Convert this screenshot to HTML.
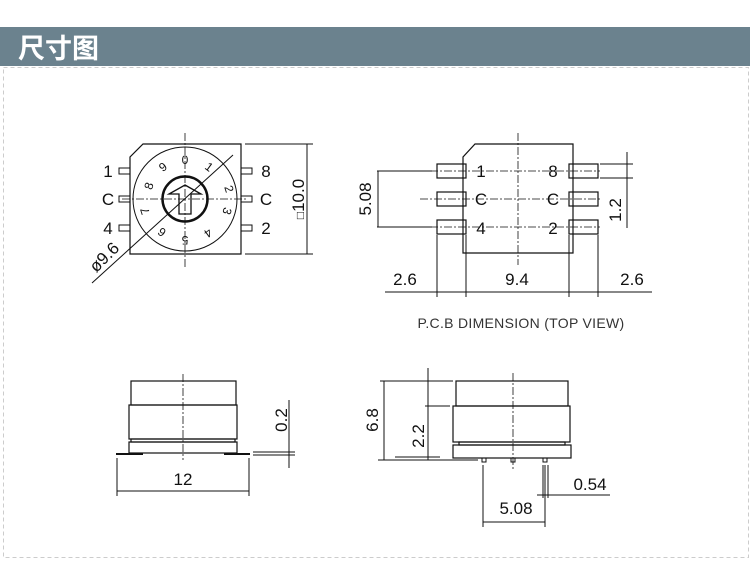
<!DOCTYPE html>
<html><head><meta charset="utf-8"><style>
html,body{margin:0;padding:0;background:#fff;width:750px;height:561px;overflow:hidden}
</style></head><body>
<svg width="750" height="561" viewBox="0 0 750 561" xmlns="http://www.w3.org/2000/svg" font-family="Liberation Sans, Arial, sans-serif">
<rect x="0" y="27" width="750" height="39" fill="#6b828e"/>
<text x="18" y="58" font-family="Liberation Sans, Noto Sans CJK SC, sans-serif" font-size="27" font-weight="bold" fill="#fff">尺寸图</text>
<rect x="3.5" y="67.5" width="745" height="490" fill="none" stroke="#ccc" stroke-dasharray="4,3"/>
<g stroke="#111" fill="none" stroke-width="1.2">
<path d="M143,144 L241,144 L241,254 L130,254 L130,157 Z"/>
<circle cx="185" cy="199" r="52" stroke-width="1"/>
<circle cx="185" cy="199" r="22.5" stroke-width="2.5"/>
<path d="M185,185 L201,194 L191,194 L191,214 L179,214 L179,194 L169,194 Z" stroke-width="1.3"/>
<g stroke-width="1"><rect x="119" y="168" width="11" height="6"/><rect x="119" y="196" width="11" height="6"/><rect x="119" y="225" width="11" height="6"/>
<rect x="241" y="168" width="11" height="6"/><rect x="241" y="196" width="11" height="6"/><rect x="241" y="225" width="11" height="6"/></g>
<g stroke-width="0.8" stroke-dasharray="8,2,2,2"><line x1="185" y1="133" x2="185" y2="268"/><line x1="122" y1="199" x2="248" y2="199"/></g>
<line x1="92" y1="283" x2="233" y2="155" stroke-width="1"/>
<g stroke-width="1"><line x1="245" y1="144" x2="313" y2="144"/><line x1="245" y1="254" x2="313" y2="254"/><line x1="307" y1="144" x2="307" y2="254"/></g>
<path d="M475,144 L573,144 L573,253 L463,253 L463,157 Z"/>
<g stroke-width="1.2"><rect x="437" y="164" width="29" height="14"/><rect x="437" y="192" width="29" height="14"/><rect x="437" y="220" width="29" height="14"/>
<rect x="569" y="164" width="29" height="14"/><rect x="569" y="192" width="29" height="14"/><rect x="569" y="220" width="29" height="14"/></g>
<g stroke-width="0.8" stroke-dasharray="8,2,2,2"><line x1="430" y1="171" x2="600" y2="171"/><line x1="420" y1="199" x2="600" y2="199"/><line x1="430" y1="227" x2="600" y2="227"/><line x1="518" y1="133" x2="518" y2="265"/></g>
<g stroke-width="1"><line x1="377" y1="171" x2="432" y2="171"/><line x1="377" y1="227" x2="432" y2="227"/><line x1="378" y1="171" x2="378" y2="227"/>
<line x1="600" y1="164" x2="633" y2="164"/><line x1="600" y1="178" x2="633" y2="178"/><line x1="627" y1="152" x2="627" y2="228"/>
<line x1="437" y1="235" x2="437" y2="297"/><line x1="466" y1="235" x2="466" y2="297"/><line x1="569" y1="235" x2="569" y2="297"/><line x1="598" y1="235" x2="598" y2="297"/>
<line x1="385" y1="292" x2="652" y2="292"/></g>
<rect x="131" y="381" width="105" height="24"/><rect x="129" y="405" width="108" height="34"/><rect x="131" y="439" width="104" height="3"/><rect x="129" y="442" width="108" height="11"/>
<g stroke-width="2"><line x1="116" y1="454" x2="143" y2="454"/><line x1="224" y1="454" x2="250" y2="454"/></g>
<line x1="183" y1="374" x2="183" y2="460" stroke-width="0.8" stroke-dasharray="8,2,2,2"/>
<g stroke-width="1"><line x1="117" y1="458" x2="117" y2="496"/><line x1="249" y1="458" x2="249" y2="496"/><line x1="117" y1="491" x2="249" y2="491"/>
<line x1="289" y1="400" x2="289" y2="468"/><line x1="253" y1="452" x2="295" y2="452"/><line x1="253" y1="455" x2="295" y2="455"/></g>
<rect x="456" y="381" width="112" height="25"/><rect x="453" y="406" width="117" height="36"/><rect x="459" y="442" width="106" height="3"/><rect x="453" y="445" width="118" height="13"/>
<g stroke-width="1"><rect x="482" y="458" width="4" height="4"/><rect x="511" y="458" width="4" height="4"/><rect x="543" y="458" width="4" height="4"/></g>
<line x1="513" y1="373" x2="513" y2="470" stroke-width="0.8" stroke-dasharray="8,2,2,2"/>
<g stroke-width="1"><line x1="380" y1="381" x2="453" y2="381"/><line x1="378" y1="460" x2="478" y2="460"/><line x1="384" y1="381" x2="384" y2="460"/>
<line x1="428" y1="368" x2="428" y2="460"/><line x1="425" y1="406" x2="450" y2="406"/><line x1="395" y1="457" x2="440" y2="457"/>
<line x1="483" y1="465" x2="483" y2="527"/><line x1="545" y1="465" x2="545" y2="527"/><line x1="483" y1="522" x2="545" y2="522"/>
<line x1="543" y1="465" x2="543" y2="498"/><line x1="548" y1="465" x2="548" y2="498"/><line x1="537" y1="495" x2="610" y2="495"/></g>
</g>
<g fill="#111" font-size="17" text-anchor="middle">
<text x="108" y="177">1</text><text x="108" y="205">C</text><text x="108" y="234">4</text>
<text x="266" y="177">8</text><text x="266" y="205">C</text><text x="266" y="234">2</text>
<text transform="translate(298,199) rotate(-90)" y="6"><tspan font-size="12">□</tspan>10.0</text>
<text transform="translate(104,257) rotate(-45)" y="6">ø9.6</text>
<text x="481" y="177">1</text><text x="481" y="205">C</text><text x="481" y="234">4</text>
<text x="553" y="177">8</text><text x="553" y="205">C</text><text x="553" y="234">2</text>
<text transform="translate(365,199) rotate(-90)" y="6">5.08</text>
<text transform="translate(615,210) rotate(-90)" y="6">1.2</text>
<text x="405" y="285">2.6</text><text x="517" y="285">9.4</text><text x="632" y="285">2.6</text>
<text x="183" y="485">12</text>
<text transform="translate(281,420) rotate(-90)" y="6">0.2</text>
<text transform="translate(372,420) rotate(-90)" y="6">6.8</text>
<text transform="translate(418,436) rotate(-90)" y="6">2.2</text>
<text x="516" y="514">5.08</text><text x="590" y="490">0.54</text>
</g>
<text x="521" y="328" font-size="14" fill="#333" text-anchor="middle" letter-spacing="0.3">P.C.B DIMENSION (TOP VIEW)</text>
<g fill="#111" font-size="12" text-anchor="middle">
<text transform="translate(185,160) rotate(0)" y="4">0</text>
<text transform="translate(209,167) rotate(36)" y="4">1</text>
<text transform="translate(229,189) rotate(72)" y="4">2</text>
<text transform="translate(227,211) rotate(108)" y="4">3</text>
<text transform="translate(208,233) rotate(144)" y="4">4</text>
<text transform="translate(185,240) rotate(180)" y="4">5</text>
<text transform="translate(162,232) rotate(216)" y="4">6</text>
<text transform="translate(145,211) rotate(252)" y="4">7</text>
<text transform="translate(149,186) rotate(288)" y="4">8</text>
<text transform="translate(163,167) rotate(324)" y="4">9</text>
</g>
</svg>
</body></html>
